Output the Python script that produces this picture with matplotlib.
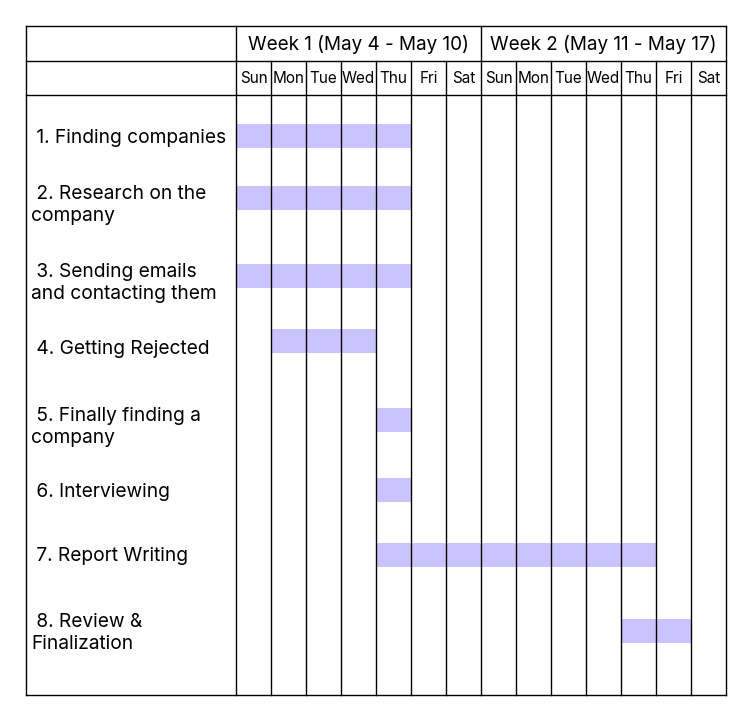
import matplotlib.pyplot as plt

# task data
tasks = [' 1. Finding companies', ' 2. Research on the\ncompany', ' 3. Sending emails\nand contacting them',
         ' 4. Getting Rejected', ' 5. Finally finding a\ncompany', ' 6. Interviewing',
         ' 7. Report Writing', ' 8. Review &\nFinalization']
start_day = [0, 0, 0, 1, 4, 4, 4, 11]
duration = [5, 5, 5, 3, 1, 1, 8, 2]
weeks = ['Week 1 (May 4 - May 10)', 'Week 2 (May 11 - May 17)']
days = ['Sun', 'Mon', 'Tue', 'Wed', 'Thu', 'Fri', 'Sat'] * 2

# layout (y in pixels from top, x in day columns)
row_y = [136, 198, 276, 341, 420, 490, 555, 631]
label_y = [138, 205, 283, 349, 427, 492, 556, 633]
bar_h = 24
top, mid, head_bot, bottom = 26, 61, 95, 695
left = -6

plt.rcParams['font.family'] = ['Inter', 'DejaVu Sans']
fig = plt.figure(figsize=(7.53, 7.25), dpi=100)
ax = fig.add_axes([0, 0, 1, 1])
ax.set_xlim(-236 / 35, (753 - 236) / 35)
ax.set_ylim(725, 0)
ax.axis('off')

# bars
ax.barh(row_y, duration, left=start_day, height=bar_h, color='#cbc3fd', zorder=1)

# grid
lw = 1.0
for y in [top, mid, head_bot, bottom]:
    ax.plot([left, 14], [y, y], color='black', lw=lw, zorder=2)
ax.plot([left, left], [top, bottom], color='black', lw=lw, zorder=2)
for d in range(15):
    y0 = top if d % 7 == 0 else mid
    ax.plot([d, d], [y0, bottom], color='black', lw=lw, zorder=2)

# header text
for i, w in enumerate(weeks):
    ax.text(7 * i + 3.5, 44, w, ha='center', va='center', fontsize=13.6)
for i, d in enumerate(days):
    ax.text(i + 0.5, 78, d, ha='center', va='center', fontsize=11)

# task labels
for t, y in zip(tasks, label_y):
    ax.text(left + 0.14, y, t, ha='left', va='center', fontsize=13.8, linespacing=1.3)

fig.savefig('out.png', dpi=100)
